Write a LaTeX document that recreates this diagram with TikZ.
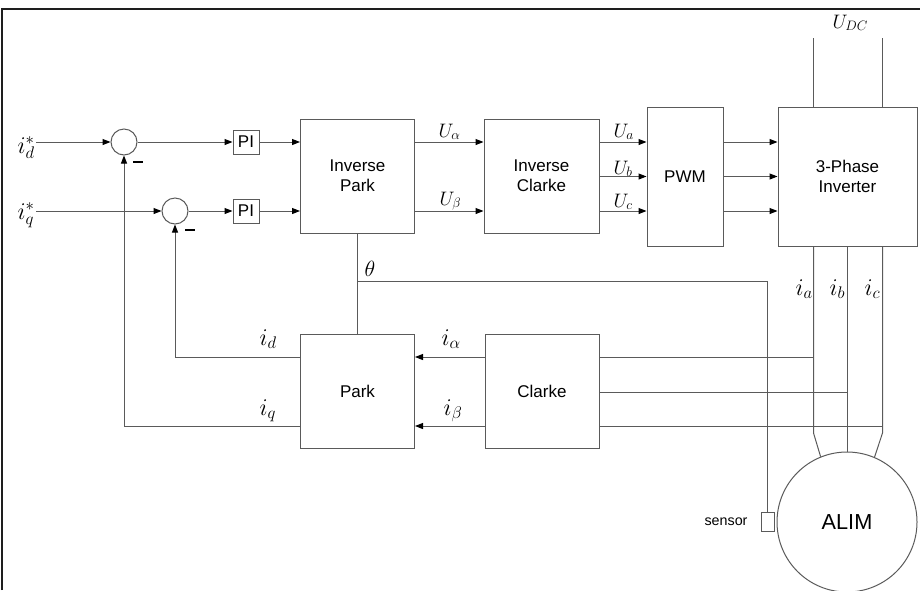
\RequirePackage{fix-cm}
\documentclass[tikz,border=0pt]{standalone}
\usepackage{fontspec}
\setmainfont{Liberation Sans}
\usetikzlibrary{arrows.meta,calc}
\definecolor{linegray}{RGB}{90,90,90}
\definecolor{framec}{RGB}{30,30,30}
\begin{document}
\begin{tikzpicture}[x=1pt,y=-1pt,line width=1pt,
  wire/.style={draw=linegray},
  arr/.style={draw=linegray,-{Triangle[color=black,length=8pt,width=6pt]}},
  blk/.style={draw=linegray,fill=white,inner sep=0pt,align=center,font=\fontsize{17}{20}\selectfont},
  sumc/.style={draw=linegray,circle,inner sep=0pt,minimum size=26pt},
  minus/.style={fill=black,inner sep=0pt,minimum width=10pt,minimum height=2.4pt},
  mlab/.style={inner sep=0pt,anchor=base west,font=\fontsize{24}{24}\selectfont},
  ulab/.style={inner sep=0pt,anchor=base west,font=\fontsize{19.5}{19.5}\selectfont}]
\useasboundingbox (0,0) rectangle (920,590);
\draw[framec,line width=1.8pt] (2,590) -- (2,9) -- (920,9);

% summing junctions and PI
\node[sumc] (sum1) at (124,142) {};
\node[sumc] (sum2) at (175,211) {};
\node[minus] (m1) at (138,162) {};
\node[minus] (m2) at (190,230) {};
\node[blk,minimum width=26pt,minimum height=24pt] (pi1) at (246,142) {PI};
\node[blk,minimum width=26pt,minimum height=24pt] (pi2) at (246,211) {PI};

% blocks
\node[blk,minimum width=114pt,minimum height=114pt] (ip) at (357.5,176) {Inverse\\Park};
\node[blk,minimum width=115pt,minimum height=114pt] (ic) at (541.5,176) {Inverse\\Clarke};
\node[blk,minimum width=76pt,minimum height=139pt] (pwm) at (685,176.5) {PWM};
\node[blk,minimum width=139pt,minimum height=139pt] (inv) at (847.5,176.5) {3-Phase\\Inverter};
\node[blk,minimum width=114pt,minimum height=114pt] (park) at (357.5,391) {Park};
\node[blk,minimum width=114pt,minimum height=114pt] (clarke) at (542,391) {Clarke};
\node[draw=linegray,circle,inner sep=0pt,minimum size=140pt,font=\fontsize{21.7}{24}\selectfont] (motor) at (847,522) {ALIM};
\node[draw=linegray,inner sep=0pt,minimum width=13pt,minimum height=19pt] (sensor) at (767.5,521.5) {};
\node[inner sep=0pt,anchor=base east,font=\fontsize{14.3}{16}\selectfont] (senslab) at (748,525) {sensor};

% labels
\node[mlab] (ldst) at (17,153) {$i_d^*$};
\node[mlab] (lqst) at (17,219) {$i_q^*$};
\node[ulab] (lua) at (438,137) {$U_\alpha$};
\node[ulab] (lub) at (439,205) {$U_\beta$};
\node[ulab] (lUa) at (613,137) {$U_a$};
\node[ulab] (lUb) at (613,174) {$U_b$};
\node[ulab] (lUc) at (613,207) {$U_c$};
\node[ulab] (ldc) at (832,28) {$U_{DC}$};
\node[mlab,font=\fontsize{22}{22}\selectfont] (lth) at (364,276) {$\theta$};
\node[mlab] (lid) at (259,345) {$i_d$};
\node[mlab] (liq) at (259,415) {$i_q$};
\node[mlab] (lial) at (441,345) {$i_\alpha$};
\node[mlab] (libe) at (443,415) {$i_\beta$};
\node[mlab] (lia) at (795,295) {$i_a$};
\node[mlab] (lib) at (829,295) {$i_b$};
\node[mlab] (lic) at (864,295) {$i_c$};

% input references
\coordinate (ind) at (36,142);
\coordinate (inq) at (36,211);
\draw[arr] (ind) -- (sum1.west);
\draw[arr] (inq) -- (sum2.west);
\draw[arr] (sum1.east) -- (pi1.west);
\draw[arr] (sum2.east) -- (pi2.west);
\draw[arr] (pi1.east) -- (pi1.east -| ip.west);
\draw[arr] (pi2.east) -- (pi2.east -| ip.west);

% Inverse park -> inverse clarke
\draw[arr] (ip.east |- pi1) -- (ic.west |- pi1);
\draw[arr] (ip.east |- pi2) -- (ic.west |- pi2);

% Inverse clarke -> PWM -> inverter
\coordinate (ya) at (0,142);
\coordinate (yb) at (0,176.5);
\coordinate (yc) at (0,211);
\draw[arr] (ic.east |- ya) -- (pwm.west |- ya);
\draw[arr] (ic.east |- yb) -- (pwm.west |- yb);
\draw[arr] (ic.east |- yc) -- (pwm.west |- yc);
\draw[arr] (pwm.east |- ya) -- (inv.west |- ya);
\draw[arr] (pwm.east |- yb) -- (inv.west |- yb);
\draw[arr] (pwm.east |- yc) -- (inv.west |- yc);

% DC supply
\coordinate (dc1) at (813.5,38);
\coordinate (dc2) at (882.5,38);
\draw[wire] (dc1) -- (inv.north -| dc1);
\draw[wire] (dc2) -- (inv.north -| dc2);

% phase lines
\coordinate (pa) at (813.5,433);
\coordinate (pb) at (847.5,433);
\coordinate (pc) at (882.5,433);
\draw[wire] (inv.south -| pa) -- (pa) -- (motor.112.7);
\draw[wire] (inv.south -| pb) -- (motor.north -| pb);
\draw[wire] (inv.south -| pc) -- (pc) -- (motor.67.3);

% current measurements to Clarke
\coordinate (ra) at (813.5,357);
\coordinate (rb) at (847.5,392);
\coordinate (rc) at (882.5,426);
\draw[wire] (ra) -- (ra -| clarke.east);
\draw[wire] (rb) -- (rb -| clarke.east);
\draw[wire] (rc) -- (rc -| clarke.east);

% Clarke -> Park
\draw[arr] (clarke.west |- ra) -- (park.east |- ra);
\draw[arr] (clarke.west |- rc) -- (park.east |- rc);

% feedback
\draw[arr] (park.west |- ra) -| (sum2.south);
\draw[arr] (park.west |- rc) -| (sum1.south);

% theta / sensor
\coordinate (th) at (357.5,281);
\draw[wire] (ip.south) -- (park.north);
\draw[wire] (th) -- (th -| sensor.north) -- (sensor.north);
\end{tikzpicture}
\end{document}
